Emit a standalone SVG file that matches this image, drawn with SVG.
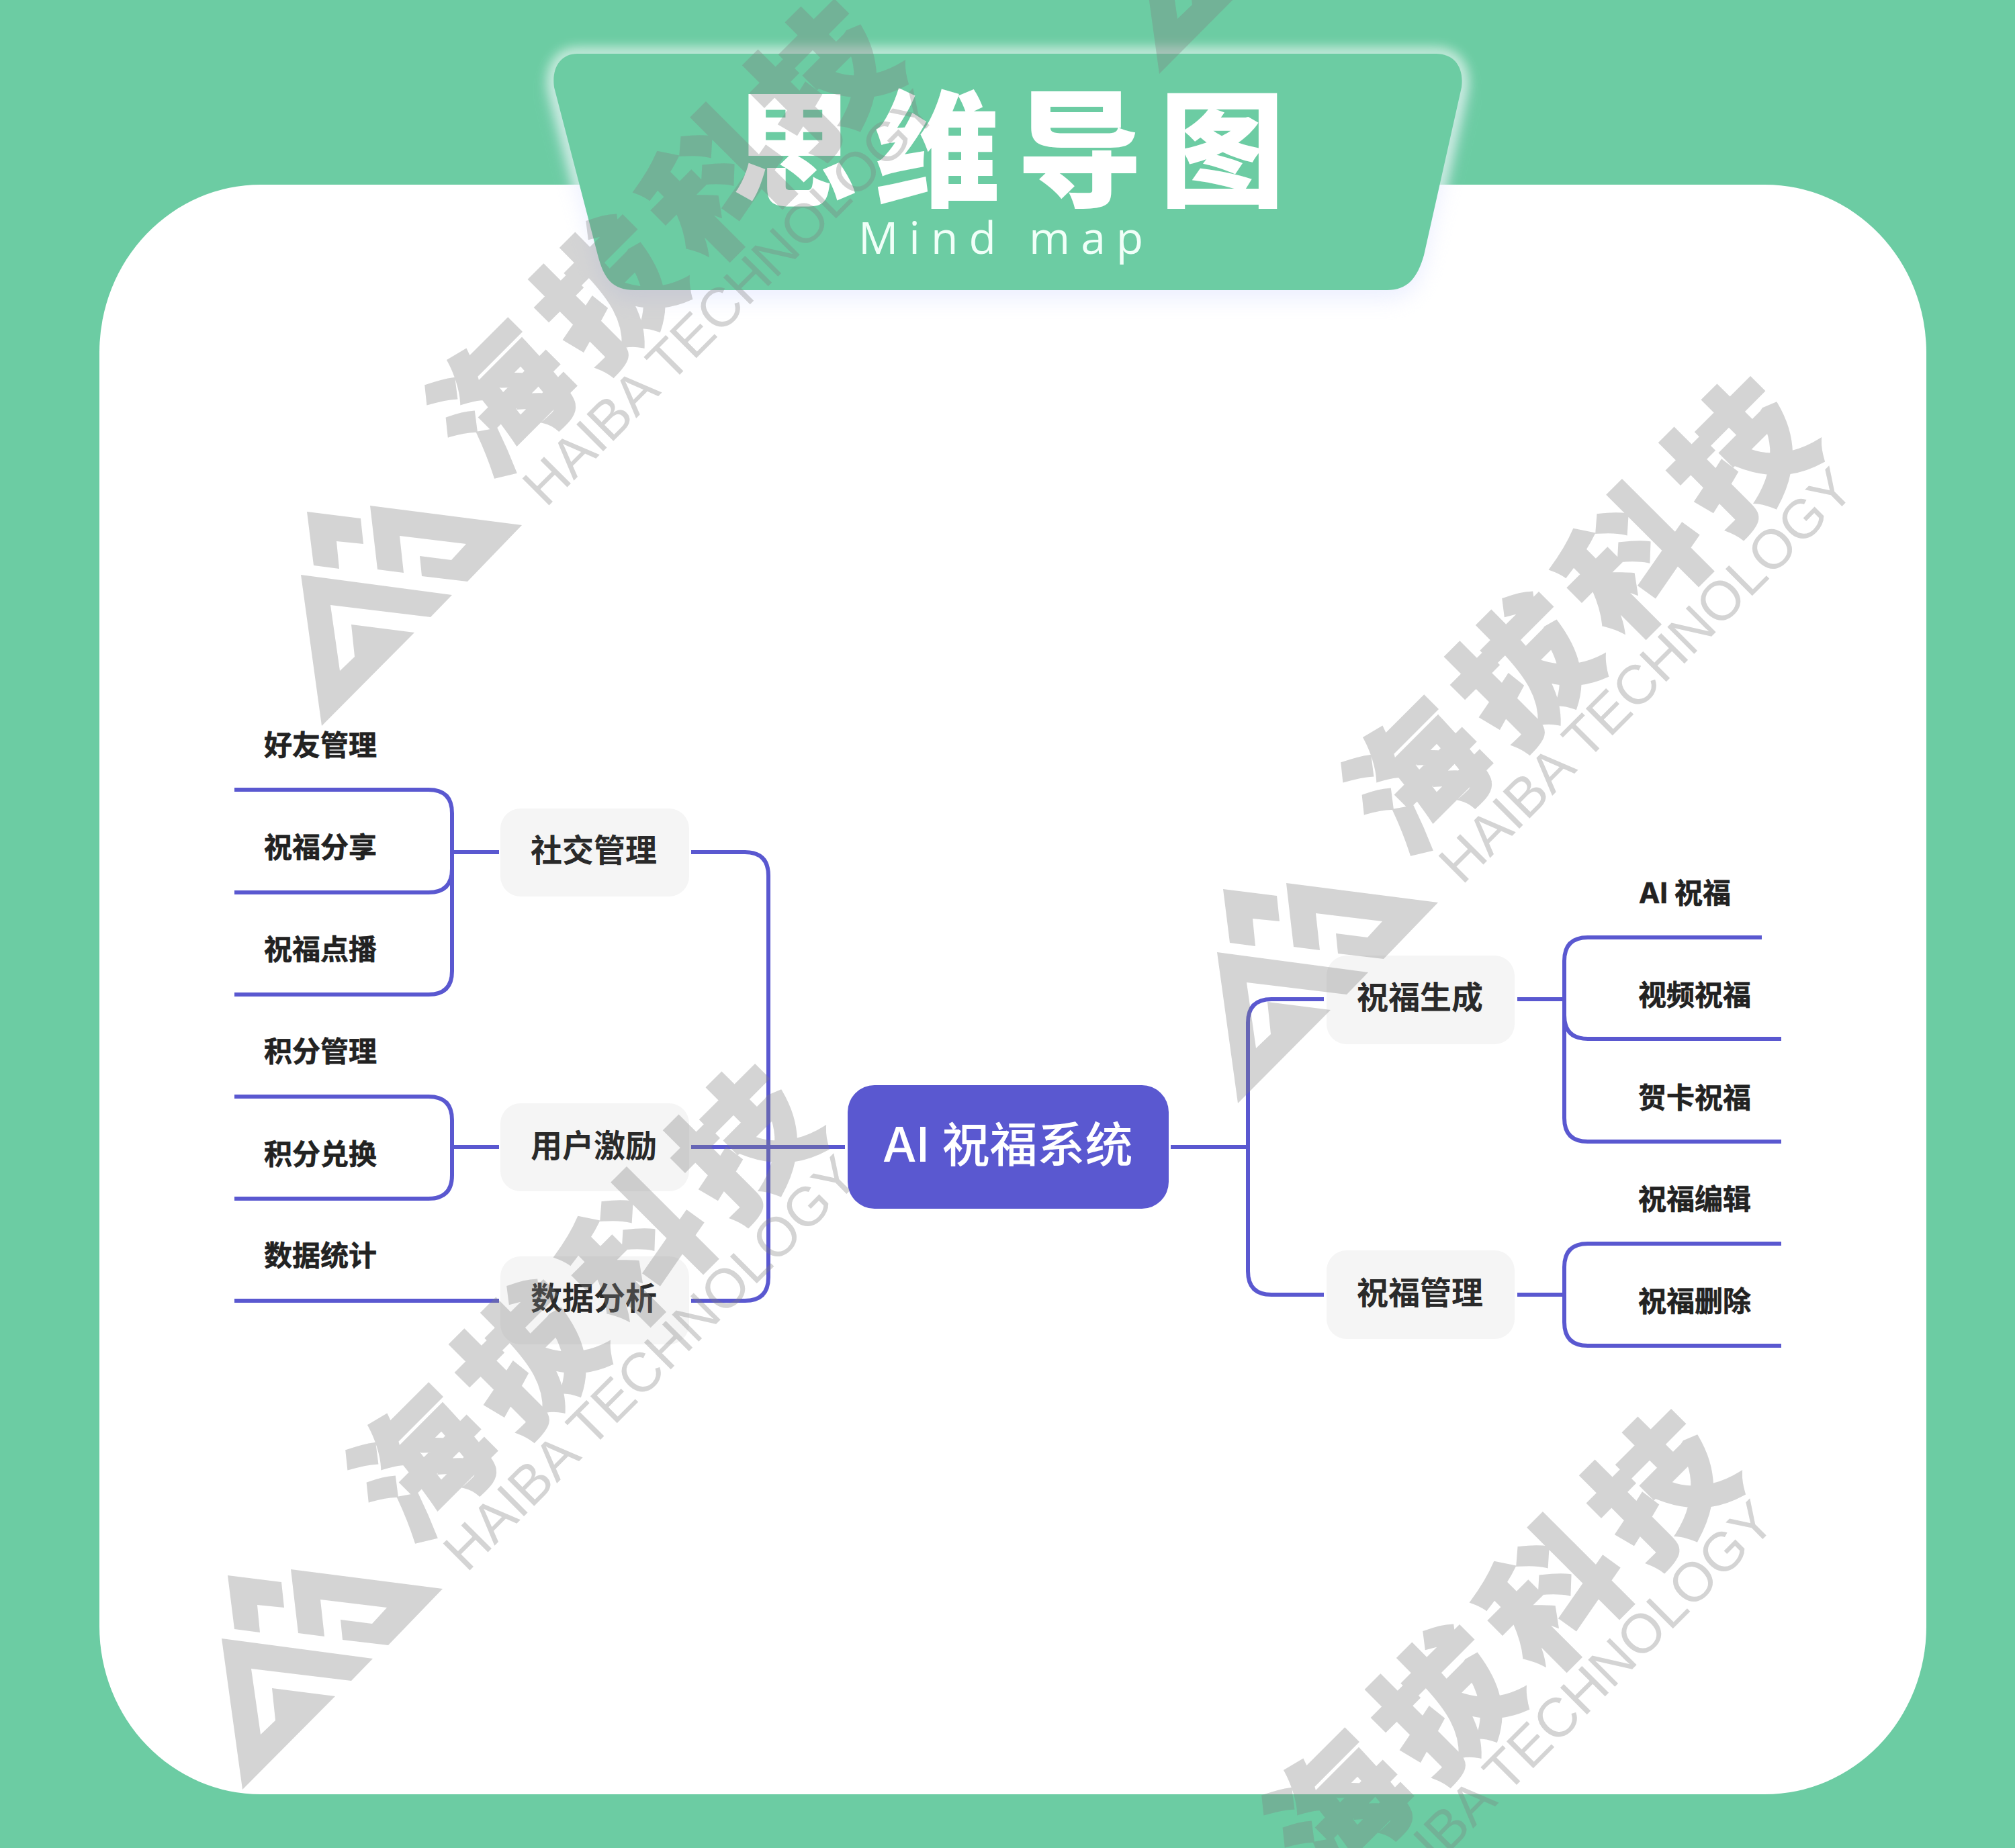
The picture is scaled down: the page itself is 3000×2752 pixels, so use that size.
<svg xmlns="http://www.w3.org/2000/svg" xmlns:xlink="http://www.w3.org/1999/xlink" width="3000" height="2752" viewBox="0 0 3000 2752">
<style>
.cjk{font-family:"Inter","Noto Sans CJK SC",sans-serif}
.leaf{font-size:42px;font-weight:700;fill:#222;stroke:#222;stroke-width:.6px}
.branch{font-size:47px;font-weight:700;fill:#2a2a2a;text-anchor:middle}
.nb{fill:#f5f5f5}
.c{fill:none;stroke:#5a58d0;stroke-width:6}
.wmc{font-family:"Noto Sans CJK SC",sans-serif;font-weight:900;font-size:200px;letter-spacing:26px;text-anchor:middle;stroke:#808080;stroke-width:5px}
.wme{font-family:"Liberation Sans",sans-serif;font-size:82px;text-anchor:middle}
</style>
<defs>
<filter id="blur1" x="-10%" y="-20%" width="120%" height="140%"><feGaussianBlur stdDeviation="9"/></filter>
<filter id="blur2" x="-10%" y="-20%" width="120%" height="140%"><feGaussianBlur stdDeviation="16"/></filter>
<clipPath id="topclip"><rect x="0" y="0" width="3000" height="275"/></clipPath>
<path id="ts" d="M860,80H2138C2165,80 2180,100 2176,130L2120,380C2110,415 2095,432 2065,432H945C912,432 899,415 890,380L825,130C821,100 835,80 860,80Z"/>
<g id="logo">
<polygon points="457,762 537,772 541,810 501,806 505,847 467,842"/>
<polygon points="551,753 777,782 696,866 628,858 625,828 672,834 694,810 595,798 601,853 562,848"/>
<polygon points="448,856 673,886 641,919 492,901 506,999 528,978 523,930 617,942 479,1081"/>
</g>
<g id="wmt">
<text class="wmc" transform="translate(2358,905) rotate(-45) translate(0,78)">海拔科技</text>
<text class="wme" textLength="831" transform="translate(2450,1005) rotate(-45) translate(0,29)">HAIBA TECHNOLOGY</text>
</g>
</defs>
<rect id="background" width="3000" height="2752" fill="#6ccca3"/>
<rect id="panel" x="148" y="275" width="2720" height="2397" rx="240" ry="250" fill="#fff"/>
<g id="title">
<use href="#ts" fill="#d5ddff" opacity=".45" transform="translate(0,14)" filter="url(#blur2)"/>
<g clip-path="url(#topclip)"><use href="#ts" fill="none" stroke="#fff" stroke-width="16" opacity=".75" filter="url(#blur1)"/></g>
<use href="#ts" fill="#6ccca3"/>
<text x="1090" y="293" font-family="Noto Sans CJK SC, sans-serif" font-weight="900" font-size="187" letter-spacing="25" fill="#fff">思维导图</text>
<text x="1278" y="378" font-family="Open Sans, sans-serif" font-weight="500" font-size="66" letter-spacing="16" fill="#f0fff8">Mind map</text>
</g>
<g id="connectors">
<path class="c" d="M349,1176H638Q673,1176 673,1211V1294Q673,1329 638,1329H349"/>
<path class="c" d="M673,1294V1446Q673,1481 638,1481H349"/>
<path class="c" d="M673,1269H743"/>
<path class="c" d="M1029,1269H1109Q1144,1269 1144,1304V1902Q1144,1937 1109,1937H1029"/>
<path class="c" d="M1029,1708H1258"/>
<path class="c" d="M349,1633H638Q673,1633 673,1668V1750Q673,1785 638,1785H349"/>
<path class="c" d="M673,1708H743"/>
<path class="c" d="M349,1937H743"/>
<path class="c" d="M1743,1708H1858"/>
<path class="c" d="M1971,1488H1893Q1858,1488 1858,1523V1893Q1858,1928 1893,1928H1971"/>
<path class="c" d="M2259,1488H2329"/>
<path class="c" d="M2623,1396H2364Q2329,1396 2329,1431V1665Q2329,1700 2364,1700H2652"/>
<path class="c" d="M2329,1512Q2329,1547 2364,1547H2652"/>
<path class="c" d="M2259,1928H2329"/>
<path class="c" d="M2652,1852H2364Q2329,1852 2329,1887V1969Q2329,2004 2364,2004H2652"/>
</g>
<g id="root"><rect x="1262" y="1616" width="478" height="184" rx="40" fill="#5a58d0"/><text class="cjk" x="1314" y="1730" font-size="71" font-weight="500" fill="#fff">AI 祝福系统</text></g>
<g id="n-social"><rect class="nb" x="745" y="1204" width="281" height="131" rx="30"/><text class="cjk branch" x="884" y="1283">社交管理</text></g>
<g id="n-incentive"><rect class="nb" x="745" y="1643" width="281" height="131" rx="30"/><text class="cjk branch" x="884" y="1723">用户激励</text></g>
<g id="n-data"><rect class="nb" x="745" y="1871" width="281" height="131" rx="30"/><text class="cjk branch" x="884" y="1950">数据分析</text></g>
<g id="n-gen"><rect class="nb" x="1975" y="1423" width="280" height="132" rx="30"/><text class="cjk branch" x="2114" y="1502">祝福生成</text></g>
<g id="n-mgr"><rect class="nb" x="1975" y="1862" width="280" height="132" rx="30"/><text class="cjk branch" x="2114" y="1942">祝福管理</text></g>
<g id="l1"><text class="cjk leaf" x="393" y="1125">好友管理</text></g>
<g id="l2"><text class="cjk leaf" x="393" y="1277">祝福分享</text></g>
<g id="l3"><text class="cjk leaf" x="393" y="1429">祝福点播</text></g>
<g id="l4"><text class="cjk leaf" x="393" y="1581">积分管理</text></g>
<g id="l5"><text class="cjk leaf" x="393" y="1734">积分兑换</text></g>
<g id="l6"><text class="cjk leaf" x="393" y="1885">数据统计</text></g>
<g id="r1"><text class="cjk leaf" x="2440" y="1345">AI 祝福</text></g>
<g id="r2"><text class="cjk leaf" x="2439" y="1497">视频祝福</text></g>
<g id="r3"><text class="cjk leaf" x="2439" y="1650">贺卡祝福</text></g>
<g id="r4"><text class="cjk leaf" x="2439" y="1801">祝福编辑</text></g>
<g id="r5"><text class="cjk leaf" x="2439" y="1953">祝福删除</text></g>
<g id="watermark" fill="#808080" opacity=".34">
<use href="#logo"/>
<use href="#logo" transform="translate(1364,562)"/>
<use href="#logo" transform="translate(-118,1584)"/>
<use href="#logo" transform="translate(1247,-971)"/>
<use href="#wmt"/>
<use href="#wmt" transform="translate(-1364,-562)"/>
<use href="#wmt" transform="translate(-1482,1024)"/>
<use href="#wmt" transform="translate(-118,1538)"/>
</g>
</svg>
